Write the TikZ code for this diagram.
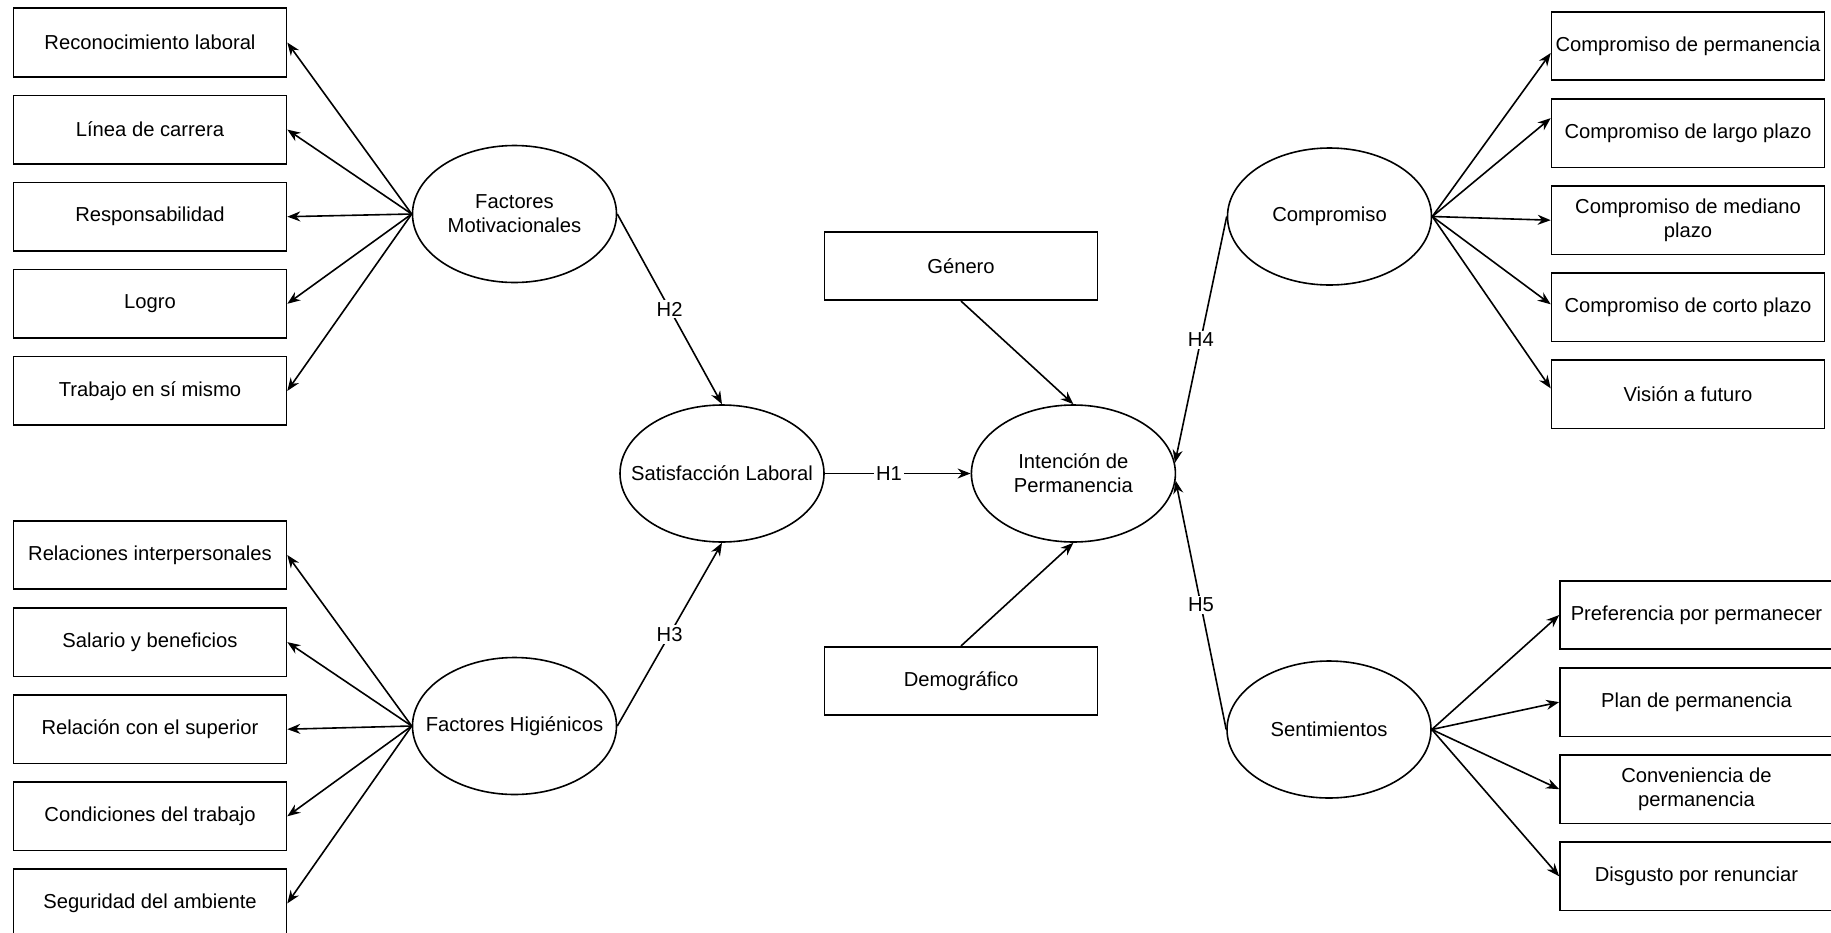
\documentclass[tikz,border=0pt]{standalone}
\usepackage{fontspec}
\setmainfont{Liberation Sans}
\usepackage{tikz}
\usetikzlibrary{arrows.meta,shapes,shapes.geometric,positioning,calc}

\begin{document}
\begin{tikzpicture}[
    x=0.5pt, y=-0.5pt,
    longnode/.style={rectangle, draw=black, align=center, inner xsep=1.5pt, minimum height=34.25pt, minimum width=136.5pt},
    ovalnode/.style={ellipse, draw=black, align=center, inner xsep=-14pt, minimum width=102pt, minimum height=68.5pt},
    hlabel/.style={fill=white, inner sep=1pt},
    link/.style={-{Stealth[length=6.5pt,width=5pt]}},
    node distance=8.5pt,
    line width=0.8pt, black,
    font=\fontsize{10.1pt}{12pt}\selectfont
    ]
    \useasboundingbox (0,0) rectangle (1831,932);

    %Nodes (left, upper)
    \node[longnode] (rl)    at (150,42.5)    {Reconocimiento laboral};
    \node[longnode] (lc)    [below=of rl]    {Línea de carrera};
    \node[longnode] (resp)  [below=of lc]    {Responsabilidad};
    \node[longnode] (logro) [below=of resp]  {Logro};
    \node[longnode] (tsm)   [below=of logro] {Trabajo en sí mismo};

    %Nodes (left, lower)
    \node[longnode] (ri)    at (150,555)     {Relaciones interpersonales};
    \node[longnode] (sb)    [below=of ri]    {Salario y beneficios};
    \node[longnode] (rs)    [below=of sb]    {Relación con el superior};
    \node[longnode] (ct)    [below=of rs]    {Condiciones del trabajo};
    \node[longnode] (sa)    [below=of ct]    {Seguridad del ambiente};

    %Latent variables
    \node[ovalnode] (fm)   at (514.5,214)   {Factores\\Motivacionales};
    \node[ovalnode] (fh)   at (514.5,726)   {Factores Higiénicos};
    \node[ovalnode] (sat)  at (722,473.5)   {Satisfacción Laboral};
    \node[ovalnode] (inte) at (1073.4,473.5) {Intención de\\Permanencia};
    \node[ovalnode] (comp) at (1329.5,216.5) {Compromiso};
    \node[ovalnode] (sent) at (1329,729.5)  {Sentimientos};

    %Controls
    \node[longnode] (gen) at (961,266) {Género};
    \node[longnode] (dem) at (961,681) {Demográfico};

    %Nodes (right, upper)
    \node[longnode] (cp1) at (1688,46)    {Compromiso de permanencia};
    \node[longnode] (cp2) [below=of cp1]  {Compromiso de largo plazo};
    \node[longnode] (cp3) [below=of cp2]  {Compromiso de mediano\\plazo};
    \node[longnode] (cp4) [below=of cp3]  {Compromiso de corto plazo};
    \node[longnode] (cp5) [below=of cp4]  {Visión a futuro};

    %Nodes (right, lower)
    \node[longnode] (sp1) at (1696.5,615) {Preferencia por permanecer};
    \node[longnode] (sp2) [below=of sp1]  {Plan de permanencia};
    \node[longnode] (sp3) [below=of sp2]  {Conveniencia de\\permanencia};
    \node[longnode] (sp4) [below=of sp3]  {Disgusto por renunciar};

    %Lines
    \foreach \b in {rl,lc,resp,logro,tsm}
        \draw[link] (fm.west) -- (\b.east);
    \foreach \b in {ri,sb,rs,ct,sa}
        \draw[link] (fh.west) -- (\b.east);
    \draw[link] (fm.east) -- node[hlabel] {H2} (sat.north);
    \draw[link] (fh.east) -- node[hlabel] {H3} (sat.south);
    \draw[link] (sat.east) -- node[hlabel, pos=0.44] {H1} (inte.west);
    \draw[link] (gen.south) -- (inte.north);
    \draw[link] (dem.north) -- (inte.south);
    \draw[link] (comp.west) -- node[hlabel] {H4} (inte.6);
    \draw[link] (sent.west) -- node[hlabel] {H5} (inte.-4);
    \foreach \b/\s in {cp1/-3.5,cp2/7.5,cp3/0,cp4/1.5,cp5/3}
        \draw[link] (comp.east) -- ([yshift=\s pt]\b.west);
    \foreach \b in {sp1,sp2,sp3,sp4}
        \draw[link] (sent.east) -- (\b.west);
\end{tikzpicture}
\end{document}
